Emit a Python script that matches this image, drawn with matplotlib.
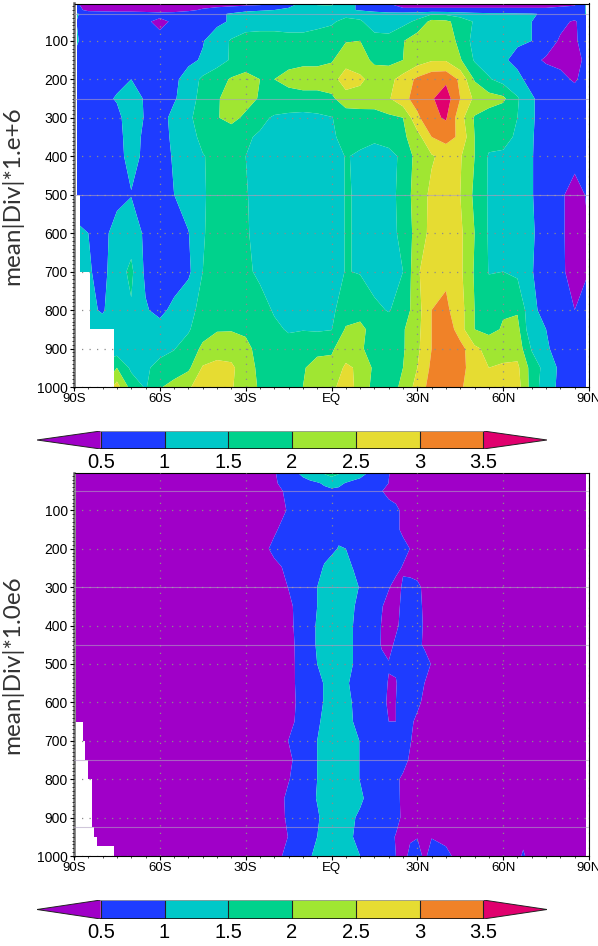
import numpy as np
import matplotlib
matplotlib.use('Agg')
import matplotlib.pyplot as plt

plt.rcParams['font.family'] = ['Liberation Sans', 'DejaVu Sans']

WIDTH, HEIGHT = 598, 946

levels = [0.5, 1, 1.5, 2, 2.5, 3, 3.5]
level_labels = ['0.5', '1', '1.5', '2', '2.5', '3', '3.5']
colors = ['#a000c8', '#1e3cff', '#00c8c8', '#00d28c', '#a0e632', '#e6dc32', '#f08228', '#e0006e']

lat_ticks = [-90, -60, -30, 0, 30, 60, 90]
lat_labels = ['90S', '60S', '30S', 'EQ', '30N', '60N', '90N']
p_ticks = [100, 200, 300, 400, 500, 600, 700, 800, 900, 1000]

# upper panel, values, one row per pressure level
top_lat = list(range(-90, 95, 5))
top_p = [3, 20, 30, 50, 100, 150, 200, 250, 300, 350, 400, 500, 600, 700, 800, 850, 900, 950, 1000]
top_div = [
    [.6, .3, .3, .3, .3, .3, .3, .3, .3, .3, .3, .3, .3, .35, .5, .8, 1.1, 1.6, 1.6, 1.2, .9, .7, .5, .3, .3, .3, .3, .3, .3, .3, .3, .3, .3, .3, .3, .4, 1.2],
    [.7, .38, .36, .35, .35, .35, .33, .36, .42, .55, .65, .75, .9, .95, 1.0, 1.1, 1.1, 1.2, 1.3, 1.1, .95, .8, .65, .6, .6, .6, .6, .6, .6, .6, .6, .6, .6, .6, .7, .7, 1.1],
    [1.1, .8, .75, .7, .7, .65, .6, .62, .7, .8, .9, 1.05, 1.15, 1.2, 1.2, 1.2, 1.2, 1.25, 1.3, 1.4, 1.35, 1.25, 1.2, 1.2, 1.25, 1.45, 1.4, 1.25, 1.15, 1.1, 1.1, 1.05, 1.03, .95, .8, .75, 1.1],
    [1.05, .75, .7, .7, .65, .55, .42, .55, .7, .8, .9, 1.05, 1.25, 1.3, 1.3, 1.3, 1.3, 1.4, 1.45, 1.6, 1.55, 1.3, 1.25, 1.35, 1.6, 2.15, 2.1, 1.8, 1.45, 1.3, 1.2, 1.1, 1.0, .8, .6, .45, .8],
    [1.1, .8, .75, .7, .7, .65, .6, .7, .8, .97, 1.25, 1.55, 1.7, 1.7, 1.7, 1.65, 1.65, 1.65, 1.7, 1.97, 2.0, 1.65, 1.65, 1.97, 2.3, 2.45, 2.4, 1.8, 1.35, 1.2, 1.15, 1.05, 1.0, .7, .45, .45, .7],
    [.95, .75, .72, .7, .7, .7, .7, .78, .9, 1.05, 1.3, 1.55, 1.75, 1.8, 1.85, 1.85, 1.9, 1.9, 1.95, 2.3, 2.2, 1.9, 1.85, 2.0, 2.25, 2.45, 2.45, 2.05, 1.45, 1.25, 1.05, .9, .6, .45, .4, .35, .65],
    [.95, .8, .8, .85, 1.0, .9, .8, .9, 1.2, 1.6, 1.8, 2.05, 2.15, 2.0, 2.0, 2.15, 2.2, 2.2, 2.3, 2.75, 2.6, 2.3, 2.35, 2.7, 3.1, 3.35, 3.4, 2.9, 1.95, 1.55, 1.3, 1.1, .85, .7, .6, .45, .7],
    [.95, .8, .85, 1.05, 1.2, .95, .8, .95, 1.25, 1.7, 1.95, 2.2, 2.2, 1.95, 1.8, 1.8, 1.85, 1.85, 1.9, 2.3, 2.3, 2.25, 2.45, 2.85, 3.2, 3.45, 3.75, 3.0, 2.4, 2.2, 2.1, 1.55, 1.05, .8, .75, .7, .8],
    [.95, .8, .8, .85, 1.3, .95, .8, 1.15, 1.4, 1.75, 1.97, 2.15, 1.9, 1.6, 1.45, 1.4, 1.35, 1.4, 1.48, 1.7, 1.75, 1.8, 1.9, 2.0, 2.9, 3.4, 3.55, 2.7, 1.95, 1.8, 1.65, 1.5, 1.05, .8, .75, .7, .8],
    [.9, .75, .75, .85, 1.2, .9, .8, 1.1, 1.35, 1.6, 1.7, 1.7, 1.55, 1.45, 1.35, 1.35, 1.35, 1.4, 1.45, 1.6, 1.6, 1.6, 1.7, 1.9, 2.3, 3.0, 3.2, 2.9, 2.0, 1.7, 1.6, 1.45, 1.03, .8, .7, .65, .8],
    [.9, .75, .75, .85, 1.15, .9, .8, 1.05, 1.25, 1.48, 1.6, 1.6, 1.5, 1.35, 1.3, 1.3, 1.35, 1.35, 1.3, 1.52, 1.45, 1.3, 1.35, 1.6, 2.2, 2.45, 2.65, 2.55, 2.0, 1.45, 1.45, 1.2, 1.02, .8, .7, .6, .8],
    [.8, .75, .75, .85, .98, .9, .75, 1.0, 1.25, 1.47, 1.6, 1.6, 1.53, 1.35, 1.3, 1.3, 1.3, 1.3, 1.3, 1.52, 1.47, 1.3, 1.3, 1.7, 2.25, 2.6, 2.8, 2.5, 1.9, 1.45, 1.3, 1.2, 1.02, .8, .55, .38, .55],
    [1.1, 1.0, .85, 1.2, 1.3, .9, .7, .75, .98, 1.47, 1.65, 1.65, 1.55, 1.35, 1.3, 1.3, 1.3, 1.3, 1.3, 1.52, 1.47, 1.3, 1.3, 1.65, 2.2, 2.65, 2.9, 2.6, 2.0, 1.45, 1.35, 1.4, 1.05, .8, .55, .38, .5],
    [1.1, 1.05, .85, 1.3, 1.6, .9, .7, .7, .9, 1.5, 1.7, 1.7, 1.6, 1.4, 1.3, 1.3, 1.3, 1.3, 1.3, 1.52, 1.47, 1.3, 1.35, 1.5, 2.4, 3.0, 2.9, 2.6, 1.95, 1.48, 1.5, 1.4, 1.02, .8, .55, .4, .5],
    [1.1, 1.1, .95, 1.3, 1.45, 1.05, .85, 1.15, 1.4, 1.6, 1.8, 1.85, 1.8, 1.7, 1.45, 1.35, 1.45, 1.4, 1.4, 1.75, 1.85, 1.6, 1.47, 1.7, 2.3, 3.0, 3.1, 2.7, 2.0, 1.75, 1.95, 1.95, 1.1, .85, .75, .5, .7],
    [1.2, 1.2, 1.2, 1.2, 1.3, 1.25, 1.2, 1.3, 1.45, 1.8, 1.97, 1.97, 1.9, 1.8, 1.6, 1.45, 1.48, 1.45, 1.48, 2.05, 2.1, 1.85, 1.75, 1.95, 2.35, 3.0, 3.4, 2.7, 2.0, 1.85, 2.05, 2.15, 1.1, 1.0, .9, .8, .8],
    [1.2, 1.2, 1.2, 1.2, 1.3, 1.35, 1.4, 1.48, 1.7, 2.1, 2.2, 2.25, 2.15, 1.8, 1.75, 1.7, 1.75, 1.85, 1.95, 2.2, 2.05, 1.85, 1.8, 1.95, 2.4, 3.0, 3.3, 3.2, 2.6, 2.35, 2.2, 2.3, 1.45, 1.05, .85, .75, .8],
    [1.5, 1.5, 1.7, 2.0, 1.4, 1.45, 1.6, 1.7, 1.9, 2.55, 2.7, 2.6, 2.2, 1.9, 1.8, 1.8, 1.95, 2.2, 2.1, 2.6, 2.4, 1.9, 1.85, 2.0, 2.5, 3.1, 3.4, 3.2, 2.7, 2.5, 2.6, 2.6, 1.8, 1.3, .9, .75, .8],
    [2.0, 2.0, 2.0, 2.7, 1.8, 1.45, 1.95, 2.2, 2.45, 2.7, 2.8, 2.55, 2.2, 1.95, 1.8, 1.75, 2.0, 2.2, 2.3, 2.9, 2.2, 1.9, 1.8, 2.1, 2.7, 3.2, 3.4, 3.05, 2.8, 2.7, 2.7, 2.7, 1.8, 1.2, .9, .75, .8],
]
# white below-ground steps: lat where a step starts, pressure of its top
top_ground_lat = [-90, -89, -88, -84.4, -76]
top_ground_p = [3, 500, 700, 850, 1000]
top_lines = [30, 250, 500]

# lower panel
low_lat = [-90, -30, -25, -22.5, -20, -17.5, -15, -12.5, -10, -7.5, -5, -2.5, 0, 2.5, 5, 7.5, 10, 12.5, 15, 17.5, 20, 22.5, 25, 27.5, 30, 32.5, 35, 40, 45, 65, 67, 69, 90]
low_p = [3, 30, 50, 100, 150, 200, 250, 300, 350, 400, 450, 500, 550, 600, 650, 700, 750, 800, 850, 900, 950, 1000]
low_div = [
    [.3, .3, .3, .3, .44, .69, .8, .95, 1.1, 1.25, 1.4, 1.55, 1.7, 1.55, 1.4, 1.25, 1.15, 1.0, .85, .7, .52, .35, .3, .3, .3, .3, .3, .3, .3, .3, .3, .3, .3],
    [.3, .3, .3, .3, .38, .63, .75, .8, .85, .9, .95, 1.05, 1.15, 1.1, .97, .9, .85, .8, .75, .7, .49, .35, .3, .3, .3, .3, .3, .3, .3, .3, .3, .3, .3],
    [.3, .3, .3, .3, .3, .45, .7, .75, .8, .85, .88, .9, .92, .9, .88, .85, .8, .75, .7, .52, .35, .3, .3, .3, .3, .3, .3, .3, .3, .3, .3, .3, .3],
    [.3, .3, .3, .3, .3, .33, .58, .7, .75, .8, .82, .85, .85, .85, .82, .8, .78, .75, .75, .7, .7, .6, .4, .3, .3, .3, .3, .3, .3, .3, .3, .3, .3],
    [.3, .3, .3, .3, .38, .63, .72, .75, .8, .85, .88, .9, .9, .9, .88, .85, .8, .78, .75, .72, .7, .6, .4, .3, .3, .3, .3, .3, .3, .3, .3, .3, .3],
    [.3, .3, .3, .44, .7, .75, .78, .8, .82, .85, .88, .9, .92, 1.02, 1.0, .9, .85, .8, .78, .75, .72, .7, .65, .49, .3, .3, .3, .3, .3, .3, .3, .3, .3],
    [.3, .3, .3, .3, .3, .48, .7, .75, .8, .85, .9, 1.03, 1.15, 1.2, 1.15, .99, .88, .8, .75, .72, .7, .62, .46, .3, .3, .3, .3, .3, .3, .3, .3, .3, .3],
    [.3, .3, .3, .3, .3, .35, .52, .7, .78, .9, 1.0, 1.2, 1.25, 1.25, 1.25, 1.2, .95, .85, .8, .7, .53, .35, .55, .7, .6, .4, .3, .3, .3, .3, .3, .3, .3],
    [.3, .3, .3, .3, .3, .3, .38, .58, .75, .9, 1.0, 1.2, 1.25, 1.25, 1.2, 1.03, .9, .8, .7, .53, .35, .4, .58, .7, .65, .42, .3, .3, .3, .3, .3, .3, .3],
    [.3, .3, .3, .3, .3, .3, .37, .56, .75, .9, 1.03, 1.2, 1.25, 1.25, 1.2, 1.0, .9, .8, .7, .48, .35, .44, .6, .7, .65, .45, .35, .3, .3, .3, .3, .3, .3],
    [.3, .3, .3, .3, .3, .3, .35, .53, .75, .9, 1.03, 1.2, 1.25, 1.25, 1.2, 1.0, .9, .8, .7, .47, .4, .56, .7, .7, .62, .43, .3, .3, .3, .3, .3, .3, .3],
    [.3, .3, .3, .3, .3, .3, .35, .52, .75, .9, 1.0, 1.2, 1.25, 1.25, 1.2, 1.0, .9, .8, .7, .6, .52, .55, .7, .75, .75, .7, .47, .3, .3, .3, .3, .3, .3],
    [.3, .3, .3, .3, .3, .3, .33, .52, .72, .8, .85, 1.03, 1.2, 1.2, 1.04, .95, .85, .8, .7, .6, .48, .48, .65, .7, .7, .5, .33, .3, .3, .3, .3, .3, .3],
    [.3, .3, .3, .3, .3, .3, .33, .5, .7, .8, .85, 1.03, 1.2, 1.1, 1.1, .98, .85, .8, .7, .6, .45, .5, .7, .7, .58, .42, .3, .3, .3, .3, .3, .3, .3],
    [.3, .3, .3, .3, .3, .3, .35, .53, .72, .82, .92, 1.1, 1.2, 1.2, 1.15, 1.0, .85, .8, .72, .62, .5, .5, .65, .57, .42, .3, .3, .3, .3, .3, .3, .3, .3],
    [.3, .3, .3, .3, .3, .33, .51, .7, .78, .85, 1.0, 1.15, 1.2, 1.2, 1.2, 1.15, .98, .85, .8, .75, .7, .65, .6, .52, .37, .3, .3, .3, .3, .3, .3, .3, .3],
    [.3, .3, .3, .3, .3, .3, .4, .58, .75, .85, 1.0, 1.15, 1.2, 1.2, 1.2, 1.15, .98, .85, .8, .75, .7, .65, .6, .46, .3, .3, .3, .3, .3, .3, .3, .3, .3],
    [.3, .3, .3, .3, .3, .3, .47, .65, .75, .85, 1.0, 1.15, 1.2, 1.2, 1.2, 1.15, .98, .85, .8, .7, .65, .55, .45, .3, .3, .3, .3, .3, .3, .3, .3, .3, .3],
    [.3, .3, .3, .3, .3, .42, .62, .72, .8, .9, 1.02, 1.2, 1.2, 1.2, 1.2, 1.2, 1.1, .9, .8, .72, .68, .6, .42, .3, .3, .3, .3, .3, .3, .3, .3, .3, .3],
    [.3, .3, .3, .3, .3, .4, .6, .72, .8, .88, .95, 1.1, 1.2, 1.2, 1.15, 1.05, .9, .82, .75, .7, .68, .6, .44, .3, .3, .3, .3, .3, .3, .3, .3, .3, .3],
    [.3, .3, .3, .3, .3, .33, .52, .7, .8, .88, 1.0, 1.2, 1.2, 1.2, 1.2, 1.0, .9, .82, .75, .7, .6, .48, .4, .45, .48, .35, .48, .4, .3, .3, .3, .3, .3],
    [.3, .3, .3, .3, .3, .48, .7, .75, .85, .97, 1.1, 1.2, 1.2, 1.2, 1.2, 1.15, 1.0, .85, .75, .7, .7, .5, .35, .6, .7, .4, .7, .6, .35, .3, .6, .3, .3],
]
low_ground_lat = [-90, -89.3, -87, -86, -85, -83.8, -82.9, -82, -76]
low_ground_p = [3, 650, 700, 750, 800, 925, 950, 975, 1000]
low_lines = [50, 300, 450, 750, 925]


def px_axes(fig, left, top, right, bottom):
    return fig.add_axes([left / WIDTH, 1 - bottom / HEIGHT, (right - left) / WIDTH, (bottom - top) / HEIGHT])


def draw_panel(ax, lat, p, div, ground_lat, ground_p, lines, label):
    ax.contourf(lat, p, np.array(div), levels=[-1] + levels + [20], colors=colors, antialiased=True)
    # ground mask is white, stepped, with a thin white strip at the north pole
    ax.fill_between(ground_lat + [ground_lat[-1]], ground_p + [1000], 1000, step='post', color='white', lw=0, zorder=2)
    ax.axvspan(89.1, 90, color='white', lw=0, zorder=2)

    for val in lines:
        ax.axhline(val, color='#b0a0c0', lw=0.8, alpha=0.6, zorder=3)
    ax.set_xticks(lat_ticks, lat_labels, fontsize=9.5)
    ax.set_yticks(p_ticks, [str(v) for v in p_ticks], fontsize=10)
    ax.set_xticks(np.arange(-90, 95, 5), minor=True)
    ax.set_yticks(np.arange(10, 1001, 10), minor=True)
    ax.grid(True, which='major', color='#8c8c8c', lw=0.9, ls=(0, (1, 5)), zorder=4)
    ax.set_axisbelow(False)
    ax.tick_params(which='major', length=3, width=0.8, pad=1.5)
    ax.tick_params(which='minor', length=1.5, width=0.5)
    ax.set_xlim(-90, 90)
    ax.set_ylim(1000, 3)
    ax.spines['left'].set_color('#666666')
    ax.spines['left'].set_linewidth(1.8)
    ax.spines['right'].set_linewidth(0.8)
    ax.set_ylabel(label, fontsize=17.5, color='#333333', family='Lato')
    ax.yaxis.set_label_coords(-0.099, 0.5)


def draw_colorbar(ax):
    ax.fill([0, levels[0], levels[0]], [0.5, 0, 1], color=colors[0], lw=0)
    ax.fill([levels[-1], 4, levels[-1]], [0, 0.5, 1], color=colors[-1], lw=0)
    ax.plot([levels[0], 0, levels[0]], [0, 0.5, 1], color='#222222', lw=0.7)
    ax.plot([levels[-1], 4, levels[-1]], [0, 0.5, 1], color='#222222', lw=0.7)
    ax.barh(0.5, np.diff(levels), height=1, left=levels[:-1], color=colors[1:-1], lw=0)
    ax.vlines(levels, 0, 1, color='#222222', lw=0.8)
    ax.plot([levels[0], levels[-1]], [0, 0], color='#111111', lw=1.2)
    ax.plot([levels[0], levels[-1]], [1, 1], color='#999999', lw=1.2)
    ax.set_xlim(0, 4)
    ax.set_ylim(0, 1)
    ax.set_yticks([])
    ax.set_xticks(levels, level_labels, fontsize=14.5)
    ax.tick_params(length=0, pad=3)
    for spine in ax.spines.values():
        spine.set_visible(False)
    ax.patch.set_alpha(0)


def main():
    fig = plt.figure(figsize=(WIDTH / 100, HEIGHT / 100), dpi=100)

    ax_top = px_axes(fig, 74, 3.5, 589, 387)
    draw_panel(ax_top, top_lat, top_p, top_div, top_ground_lat, top_ground_p, top_lines, 'mean|Div|*1.e+6')
    ax_low = px_axes(fig, 74, 473, 589, 856)
    draw_panel(ax_low, low_lat, low_p, low_div, low_ground_lat, low_ground_p, low_lines, 'mean|Div|*1.0e6')

    draw_colorbar(px_axes(fig, 37, 431, 547, 449))
    draw_colorbar(px_axes(fig, 37, 900, 547, 919))

    fig.savefig('out.png', dpi=100)
    plt.close(fig)


if __name__ == '__main__':
    main()
